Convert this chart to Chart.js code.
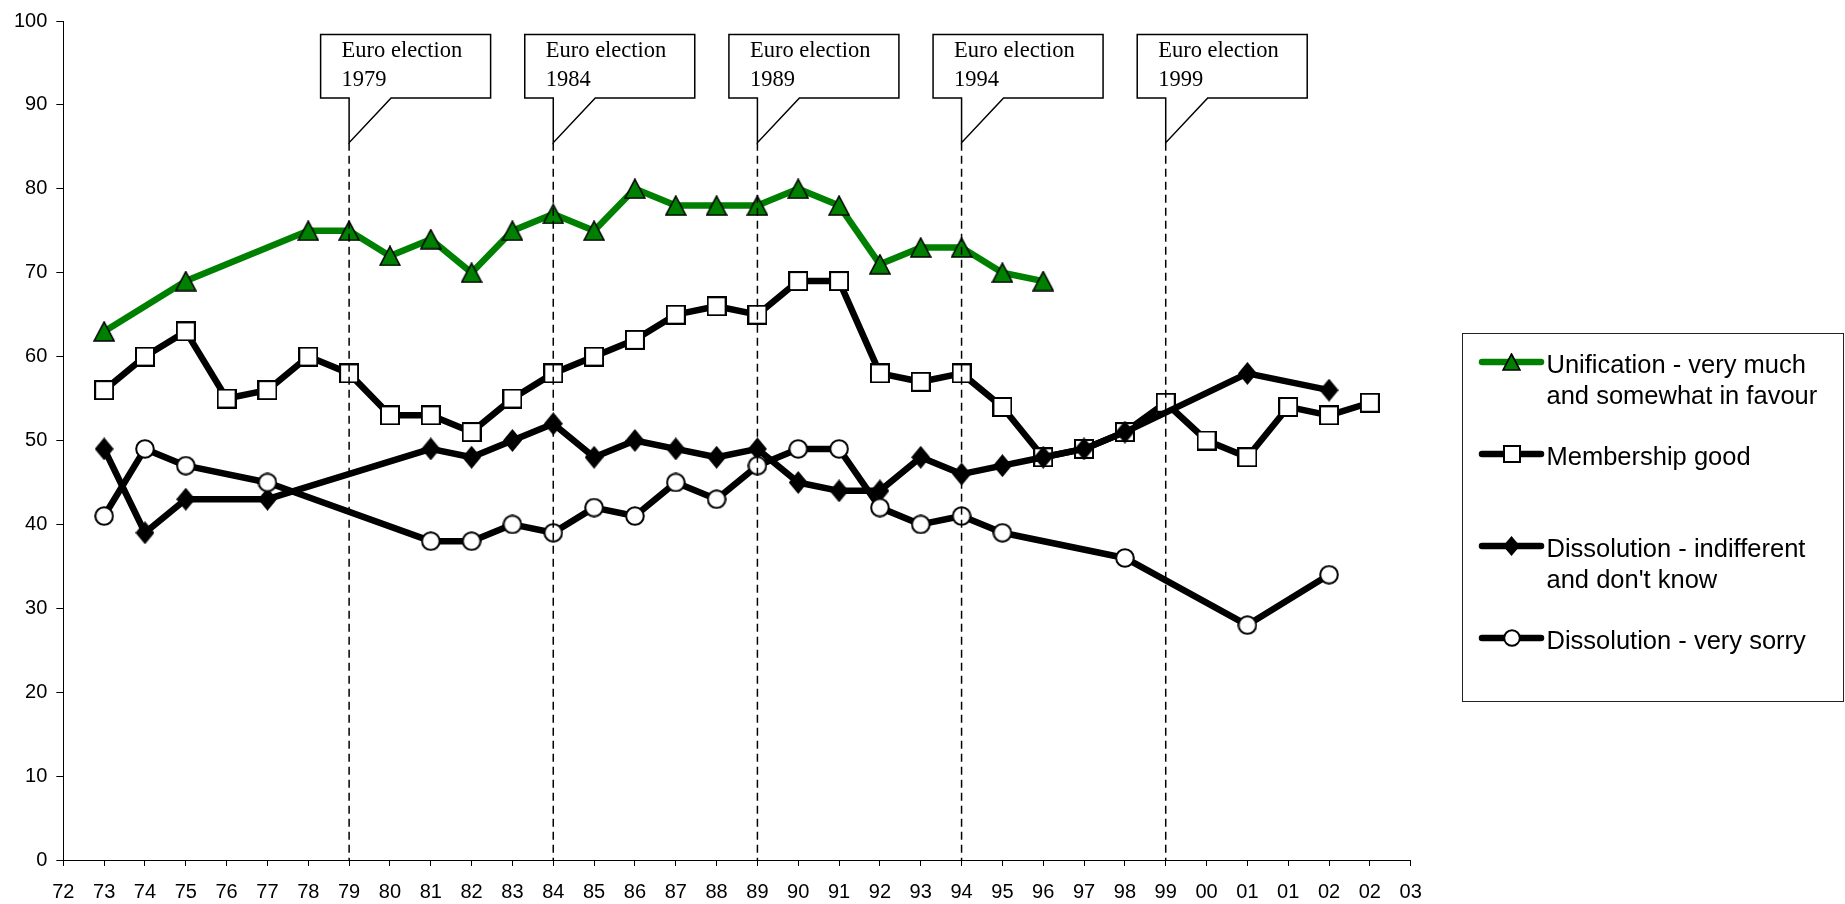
<!DOCTYPE html>
<html>
<head>
<meta charset="utf-8">
<script src="https://cdn.jsdelivr.net/npm/chart.js@4.4.1/dist/chart.umd.min.js"></script>
<style>
  html, body { margin: 0; padding: 0; background: #ffffff; }
  #wrap { position: relative; width: 1845px; height: 904px; }
</style>
</head>
<body>
<div id="wrap"><canvas id="chart" width="1845" height="904"></canvas></div>
<script>
// Survey waves (two-digit years; some years have two waves)
const years = ['72','73','74','75','76','77','78','79','80','81','82','83','84','85','86','87','88','89',
               '90','91','92','93','94','95','96','97','98','99','00','01','01','02','02','03'];

// Percentages per wave (null = question not asked)
const unification = [null,63,null,69,null,null,75,75,72,74,70,75,77,75,80,78,78,78,
                     80,78,71,73,73,70,69,null,null,null,null,null,null,null,null,null];
const membership  = [null,56,60,63,55,56,60,58,53,53,51,55,58,60,62,65,66,65,
                     69,69,58,57,58,54,48,49,51,54.5,50,48,54,53,54.5,null];
const indifferent = [null,49,39,43,null,43,null,null,null,49,48,50,52,48,50,49,48,49,
                     45,44,44,48,46,47,48,49,51,null,null,58,null,56,null,null];
const verySorry   = [null,41,49,47,null,45,null,null,null,38,38,40,39,42,41,45,43,47,
                     49,49,42,40,41,39,null,null,36,null,null,28,null,34,null,null];

const seriesNames = ['Unification - very much and somewhat in favour', 'Membership good',
                     "Dissolution - indifferent and don't know", 'Dissolution - very sorry'];
const legendLines = [['Unification - very much', 'and somewhat in favour'], ['Membership good'],
                     ['Dissolution - indifferent', "and don't know"], ['Dissolution - very sorry']];

// European Parliament elections
const electionWaves  = ['79','84','89','94','99'];
const electionYears  = ['1979','1984','1989','1994','1999'];
const electionTitle  = 'Euro election';

const GREEN = '#008000';
const BLACK = '#000000';

function markerCanvas(w, h, paint) {
  const c = document.createElement('canvas');
  c.width = w; c.height = h;
  paint(c.getContext('2d'), w, h);
  return c;
}
function makeMarkers(k) {
  const tw = Math.round(22 * k), th = Math.round(21 * k);
  const tri = markerCanvas(tw, th, (g, w, h) => {
    g.beginPath(); g.moveTo(w / 2, 1); g.lineTo(w - 1, h - 1); g.lineTo(1, h - 1); g.closePath();
    g.fillStyle = GREEN; g.fill(); g.lineWidth = 1.6; g.strokeStyle = BLACK; g.lineJoin = 'miter'; g.stroke();
  });
  const sq = Math.round(20 * k);
  const square = markerCanvas(sq, sq, (g, w, h) => {
    g.fillStyle = '#ffffff'; g.fillRect(1, 1, w - 2, h - 2);
    g.lineWidth = 2; g.strokeStyle = BLACK; g.strokeRect(1, 1, w - 2, h - 2);
  });
  const dw = Math.round(19 * k), dh = Math.round(23 * k);
  const diamond = markerCanvas(dw, dh, (g, w, h) => {
    g.beginPath(); g.moveTo(w / 2, 0); g.lineTo(w, h / 2); g.lineTo(w / 2, h); g.lineTo(0, h / 2); g.closePath();
    g.fillStyle = BLACK; g.fill();
  });
  const cd = Math.round(20 * k);
  const circle = markerCanvas(cd, cd, (g, w, h) => {
    g.beginPath(); g.arc(w / 2, h / 2, w / 2 - 1.2, 0, Math.PI * 2);
    g.fillStyle = '#ffffff'; g.fill(); g.lineWidth = 2; g.strokeStyle = BLACK; g.stroke();
  });
  return [tri, square, diamond, circle];
}
const chartMarkers = makeMarkers(1);
const legendMarkers = makeMarkers(0.88);

const colors = [GREEN, BLACK, BLACK, BLACK];
const seriesData = [unification, membership, indifferent, verySorry];
const drawOrder = [4, 3, 2, 1];

// Dashed election lines with callout boxes
const electionPlugin = {
  id: 'electionCallouts',
  afterDatasetsDraw(chart) {
    const ctx = chart.ctx, xs = chart.scales.x, ys = chart.scales.y, area = chart.chartArea;
    const tipY = ys.getPixelForValue(85.5);
    const baseY = ys.getPixelForValue(0);
    electionWaves.forEach((wave, i) => {
      const x = xs.getPixelForValue(years.indexOf(wave));
      ctx.save();
      ctx.strokeStyle = BLACK; ctx.lineWidth = 1.5; ctx.setLineDash([8, 5]);
      ctx.beginPath(); ctx.moveTo(x, tipY); ctx.lineTo(x, baseY); ctx.stroke();
      ctx.setLineDash([]);
      const left = x - 28.5, right = x + 141.5, top = area.top + 13.5, bottom = area.top + 77;
      ctx.beginPath();
      ctx.moveTo(left, top); ctx.lineTo(right, top); ctx.lineTo(right, bottom);
      ctx.lineTo(x + 42, bottom); ctx.lineTo(x, tipY); ctx.lineTo(x, bottom);
      ctx.lineTo(left, bottom); ctx.closePath();
      ctx.fillStyle = '#ffffff'; ctx.fill();
      ctx.lineWidth = 1.5; ctx.lineJoin = 'miter'; ctx.stroke();
      ctx.fillStyle = BLACK;
      ctx.font = '22.5px "Liberation Serif", "Times New Roman", serif';
      ctx.textAlign = 'left'; ctx.textBaseline = 'alphabetic';
      ctx.fillText(electionTitle, left + 21, area.top + 36);
      ctx.fillText(electionYears[i], left + 21, area.top + 65);
      ctx.restore();
    });
  }
};

// Boxed legend on the right
const legendPlugin = {
  id: 'boxLegend',
  afterDraw(chart) {
    const ctx = chart.ctx;
    const bx = 1462.5, by = 333.5, bw = 381, bh = 368;
    ctx.save();
    ctx.strokeStyle = '#222222'; ctx.lineWidth = 1;
    ctx.strokeRect(bx, by, bw, bh);
    const rowY = [28.5, 120.5, 212.5, 304.5];
    chart.data.datasets.forEach((ds, i) => {
      const y = by + rowY[i];
      ctx.beginPath(); ctx.moveTo(1482, y); ctx.lineTo(1541, y);
      ctx.strokeStyle = ds.borderColor; ctx.lineWidth = 6.5; ctx.lineCap = 'round'; ctx.stroke();
      const m = legendMarkers[i];
      ctx.drawImage(m, Math.round(1511.5 - m.width / 2), Math.round(y - m.height / 2));
      ctx.fillStyle = BLACK;
      ctx.font = '25.5px "Liberation Sans", Arial, sans-serif';
      ctx.textAlign = 'left'; ctx.textBaseline = 'alphabetic';
      legendLines[i].forEach((t, j) => ctx.fillText(t, 1546.5, y + 11 + j * 30.6));
    });
    ctx.restore();
  }
};

new Chart(document.getElementById('chart'), {
  type: 'line',
  data: {
    labels: years,
    datasets: seriesData.map((d, i) => ({
      label: seriesNames[i],
      data: d,
      borderColor: colors[i],
      backgroundColor: colors[i],
      borderWidth: 6.5,
      borderJoinStyle: 'round',
      borderCapStyle: 'round',
      fill: false,
      tension: 0,
      spanGaps: true,
      pointStyle: chartMarkers[i],
      pointRadius: 10,
      pointHoverRadius: 10,
      order: drawOrder[i]
    }))
  },
  options: {
    responsive: false,
    animation: false,
    events: [],
    layout: { padding: { left: 0, top: 17.5, right: 434.3, bottom: 0 } },
    plugins: { legend: { display: false }, tooltip: { enabled: false } },
    scales: {
      x: {
        type: 'category',
        offset: false,
        afterFit(s) { s.height = 44; },
        border: { display: true, color: BLACK, width: 1 },
        grid: { display: true, drawOnChartArea: false, drawTicks: true, tickLength: 6, color: BLACK },
        ticks: {
          autoSkip: false, maxRotation: 0, minRotation: 0, padding: 14, color: BLACK,
          font: { family: '"Liberation Sans", Arial, sans-serif', size: 20 }
        }
      },
      y: {
        min: 0, max: 100,
        afterFit(s) { s.width = 63.3; },
        border: { display: true, color: BLACK, width: 1 },
        grid: { display: true, drawOnChartArea: false, drawTicks: true, tickLength: 7, color: BLACK },
        ticks: {
          stepSize: 10, padding: 9, color: BLACK,
          font: { family: '"Liberation Sans", Arial, sans-serif', size: 20 }
        }
      }
    }
  },
  plugins: [electionPlugin, legendPlugin]
});
</script>
</body>
</html>
